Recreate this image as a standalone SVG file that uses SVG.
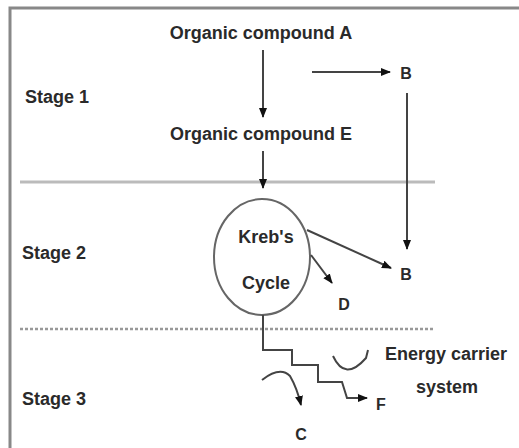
<svg xmlns="http://www.w3.org/2000/svg" width="519" height="448" viewBox="0 0 519 448">
<defs>
<style>
.t{font-family:"Liberation Sans",Arial,sans-serif;font-weight:bold;font-size:18px;fill:#2a2a2a}
.s{font-family:"Liberation Sans",Arial,sans-serif;font-weight:bold;font-size:16px;fill:#2a2a2a}
.ln{stroke:#444;stroke-width:2;fill:none}
</style>
<marker id="ah" viewBox="0 0 10 10" refX="9" refY="5" markerWidth="5" markerHeight="5" orient="auto" markerUnits="strokeWidth">
<path d="M0,1 L10,5 L0,9 z" fill="#111"/>
</marker>
</defs>
<rect width="519" height="448" fill="#fff"/>
<g id="frame" fill="none" stroke="#888" stroke-width="3">
<path d="M10,448 V8 H519"/>
</g>
<g id="separators">
<line x1="20" y1="182" x2="435" y2="182" stroke="#bbb" stroke-width="3"/>
<line x1="20" y1="329" x2="435" y2="329" stroke="#999" stroke-width="2.5" stroke-dasharray="3,2"/>
</g>
<g id="stages">
<text class="t" x="25" y="103">Stage 1</text>
<text class="t" x="22" y="259">Stage 2</text>
<text class="t" x="22" y="405">Stage 3</text>
</g>
<g id="nodeA"><text class="t" x="261" y="39" text-anchor="middle">Organic compound A</text></g>
<g id="nodeE"><text class="t" x="261" y="140" text-anchor="middle">Organic compound E</text></g>
<g id="nodeB1"><text class="s" x="406" y="79" text-anchor="middle">B</text></g>
<g id="nodeB2"><text class="s" x="406" y="280" text-anchor="middle">B</text></g>
<g id="nodeD"><text class="s" x="344" y="310" text-anchor="middle">D</text></g>
<g id="nodeF"><text class="s" x="381" y="410" text-anchor="middle">F</text></g>
<g id="nodeC"><text class="s" x="301" y="440" text-anchor="middle">C</text></g>
<g id="krebs">
<ellipse cx="262" cy="257" rx="48" ry="58" fill="none" stroke="#666" stroke-width="2"/>
<text class="t" x="266" y="243" text-anchor="middle">Kreb's</text>
<text class="t" x="266" y="289" text-anchor="middle">Cycle</text>
</g>
<g id="energy">
<text class="t" x="446" y="360" text-anchor="middle">Energy carrier</text>
<text class="t" x="447" y="393" text-anchor="middle">system</text>
</g>
<g id="connectors">
<line class="ln" x1="263" y1="50" x2="263" y2="117" marker-end="url(#ah)"/>
<line class="ln" x1="263" y1="151" x2="263" y2="188" marker-end="url(#ah)"/>
<line class="ln" x1="312" y1="72" x2="390" y2="72" marker-end="url(#ah)"/>
<line class="ln" x1="407" y1="93" x2="407" y2="249" marker-end="url(#ah)"/>
<line class="ln" x1="307" y1="230" x2="391" y2="268" marker-end="url(#ah)"/>
<line class="ln" x1="311" y1="255" x2="332" y2="283" marker-end="url(#ah)"/>
<path class="ln" d="M263,315 V350 H292 V365 H318 V382 H342 L347,398 H367" marker-end="url(#ah)"/>
<path class="ln" d="M262,380 Q280,366 290,376 Q297,388 301,405" marker-end="url(#ah)"/>
<path class="ln" d="M333,356 Q345,382 366,358 L368,350"/>
</g>
</svg>
